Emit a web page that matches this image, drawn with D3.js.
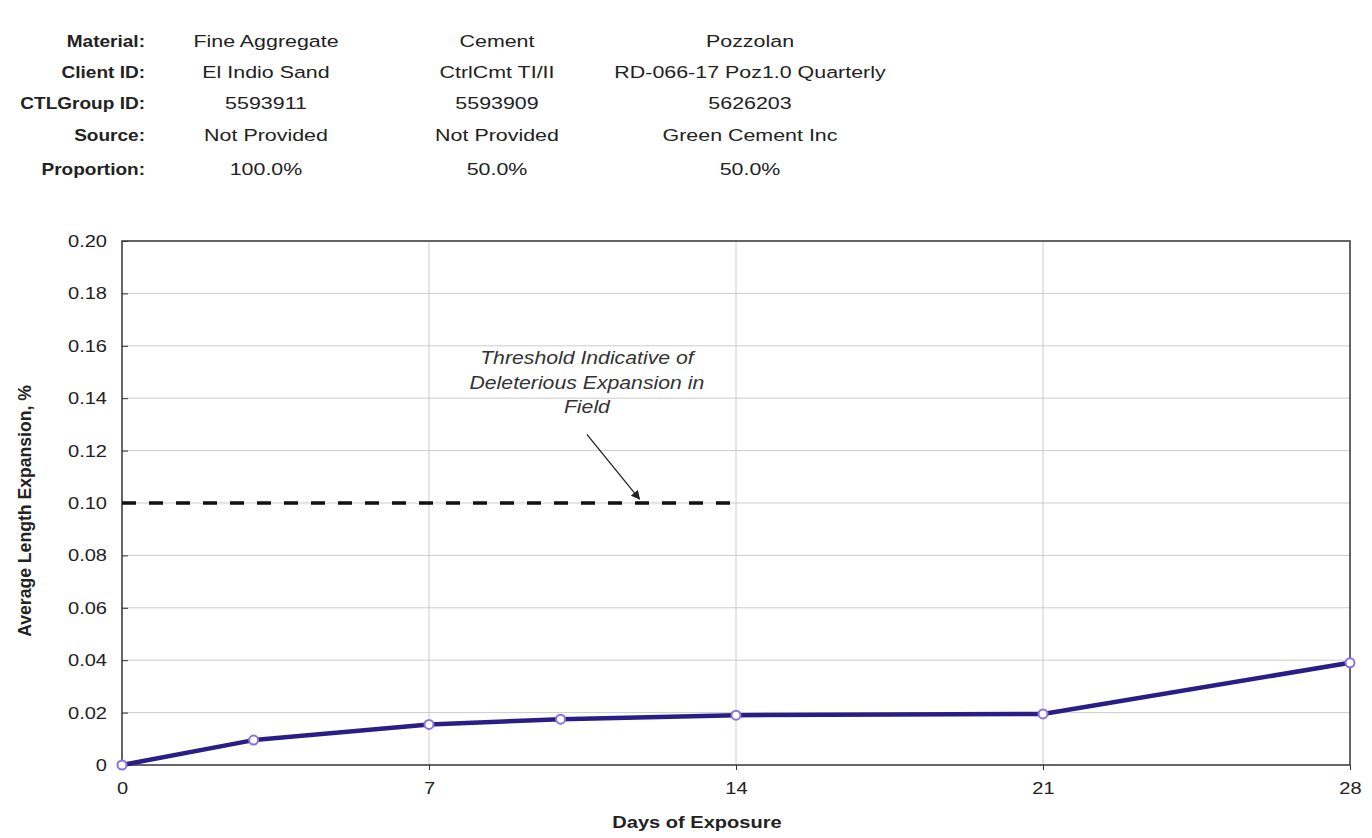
<!DOCTYPE html>
<html>
<head>
<meta charset="utf-8">
<script src="https://cdn.jsdelivr.net/npm/d3@7"></script>
<style>
body { margin: 0; background: #fff; }
text { font-family: "Liberation Sans", Arial, sans-serif; }
</style>
</head>
<body>
<div id="chart"></div>
<script>
// header table
var rowLabels = ["Material:", "Client ID:", "CTLGroup ID:", "Source:", "Proportion:"]
var colAggregate = ["Fine Aggregate", "El Indio Sand", "5593911", "Not Provided", "100.0%"]
var colCement = ["Cement", "CtrlCmt TI/II", "5593909", "Not Provided", "50.0%"]
var colPozzolan = ["Pozzolan", "RD-066-17 Poz1.0 Quarterly", "5626203", "Green Cement Inc", "50.0%"]

// series
var days = [0, 3, 7, 10, 14, 21, 28]
var expansion = [0, 0.0095, 0.0155, 0.0175, 0.019, 0.0195, 0.039]

var xTicks = [0, 7, 14, 21, 28]
var yTicks = [0, 0.02, 0.04, 0.06, 0.08, 0.10, 0.12, 0.14, 0.16, 0.18, 0.20]
var threshold = [[0, 0.10], [14, 0.10]]
var noteLines = ["Threshold Indicative of", "Deleterious Expansion in", "Field"]

var width = 1372, height = 838
var margin = {top: 241, right: 22, bottom: 73, left: 122}
var sx = 1.18   // the scanned original is a bit wider than tall

var svg = d3.select("#chart").append("svg")
    .attr("width", width).attr("height", height)

// text placed at (px,py), stretched horizontally
function label(g, px, py, txt, anchor, k) {
    return g.append("text")
        .attr("transform", `translate(${px},${py}) scale(${k || sx},1)`)
        .attr("dy", "0.35em").attr("text-anchor", anchor).text(txt)
}

// table
var rowY = [41, 72, 103, 135, 169]
var colX = [266, 497, 750]
var tbl = svg.append("g").attr("font-size", 17).attr("fill", "#222")
rowLabels.forEach((t, i) => label(tbl, 145, rowY[i], t, "end", 1.12).attr("font-weight", "bold"))
;[colAggregate, colCement, colPozzolan].forEach((col, c) => {
    col.forEach((t, i) => label(tbl, colX[c], rowY[i], t, "middle", 1.26))
})

var x = d3.scaleLinear().domain([0, 28]).range([margin.left, width - margin.right])
var y = d3.scaleLinear().domain([0, 0.2]).range([height - margin.bottom, margin.top])

// grid
svg.append("g").selectAll("line").data(yTicks.slice(1, -1)).enter().append("line")
    .attr("x1", x(0)).attr("x2", x(28)).attr("y1", d => y(d)).attr("y2", d => y(d))
    .attr("stroke", "#cccccc").attr("stroke-width", 1)
svg.append("g").selectAll("line").data(xTicks.slice(1, -1)).enter().append("line")
    .attr("y1", y(0)).attr("y2", y(0.2)).attr("x1", d => x(d)).attr("x2", d => x(d))
    .attr("stroke", "#cccccc").attr("stroke-width", 1)

// frame
svg.append("rect")
    .attr("x", x(0)).attr("y", y(0.2)).attr("width", x(28) - x(0)).attr("height", y(0) - y(0.2))
    .attr("fill", "none").attr("stroke", "#333").attr("stroke-width", 1.5)

// axes
var yAxis = svg.append("g").attr("transform", `translate(${x(0)},0)`)
    .call(d3.axisLeft(y).tickValues(yTicks).tickSizeInner(-6).tickSizeOuter(0)
        .tickFormat(d => d === 0 ? "0" : d3.format(".2f")(d)))
var xAxis = svg.append("g").attr("transform", `translate(0,${y(0)})`)
    .call(d3.axisBottom(x).tickValues(xTicks).tickSizeInner(5).tickSizeOuter(0))
;[yAxis, xAxis].forEach(a => {
    a.select(".domain").remove()
    a.selectAll("line").attr("stroke", "#333")
    a.selectAll("text").attr("font-size", 17).attr("fill", "#222")
        .attr("font-family", "Liberation Sans, Arial, sans-serif")
})
yAxis.selectAll("text").attr("x", -15 / sx).attr("transform", `scale(${sx},1)`)
xAxis.selectAll("text").attr("y", 17).attr("transform", `scale(${sx},1)`)

// axis titles
svg.append("text").attr("transform", `translate(24,${(y(0) + y(0.2)) / 2 + 8}) rotate(-90) scale(1.1,${sx})`)
    .attr("text-anchor", "middle").attr("font-size", 16).attr("font-weight", "bold")
    .attr("dy", "0.35em").attr("fill", "#222").text("Average Length Expansion, %")
label(svg, 697, 822, "Days of Exposure", "middle")
    .attr("font-size", 17).attr("font-weight", "bold").attr("fill", "#222")

// threshold
svg.append("path").datum(threshold)
    .attr("d", d3.line().x(d => x(d[0])).y(d => y(d[1])))
    .attr("stroke", "#111").attr("stroke-width", 3.5).attr("stroke-dasharray", "14,13")
    .attr("fill", "none")

svg.append("defs").append("marker").attr("id", "arr")
    .attr("viewBox", "0 0 10 10").attr("refX", 9).attr("refY", 5)
    .attr("markerWidth", 7).attr("markerHeight", 7).attr("orient", "auto")
    .append("path").attr("d", "M0,0L10,5L0,10z").attr("fill", "#222")
svg.append("line")
    .attr("x1", x(10.6)).attr("y1", y(0.1262)).attr("x2", x(11.8)).attr("y2", y(0.1015))
    .attr("stroke", "#222").attr("stroke-width", 1.3).attr("marker-end", "url(#arr)")

var note = svg.append("g").attr("font-size", 18).attr("font-style", "italic").attr("fill", "#333")
noteLines.forEach((t, i) => label(note, x(10.6), y(0.1565) + 3 + i * 24.5, t, "middle"))

// data
var pts = days.map((d, i) => [d, expansion[i]])
svg.append("path").datum(pts)
    .attr("d", d3.line().x(d => x(d[0])).y(d => y(d[1])))
    .attr("stroke", "#2b1d86").attr("stroke-width", 4.5).attr("fill", "none")
svg.append("g").selectAll("circle").data(pts).enter().append("circle")
    .attr("cx", d => x(d[0])).attr("cy", d => y(d[1])).attr("r", 4.5)
    .attr("fill", "#fff").attr("stroke", "#8a70e0").attr("stroke-width", 2)
</script>
</body>
</html>
